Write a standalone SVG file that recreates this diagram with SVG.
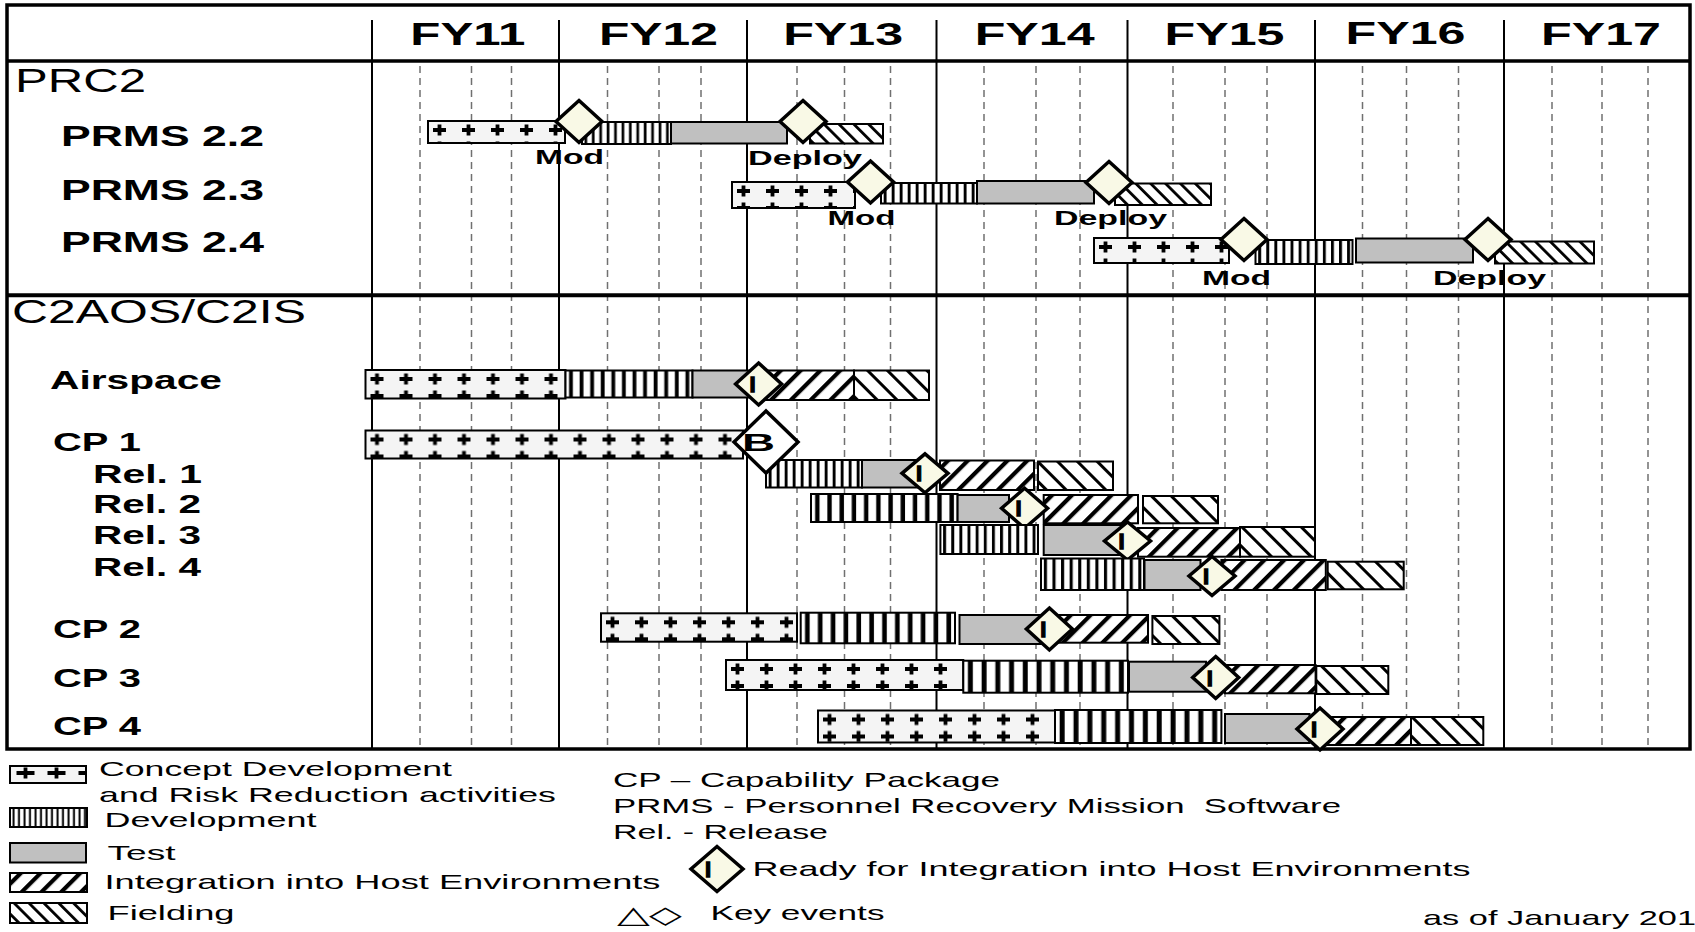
<svg xmlns="http://www.w3.org/2000/svg" width="1695" height="932" viewBox="0 0 1695 932">
<style>
text{font-family:"Liberation Sans",Arial,sans-serif;fill:#000}
.fy{font-size:31px;font-weight:bold;text-anchor:middle}
.sec{font-size:33px}
.row{font-size:29px;font-weight:bold}
.sub{font-size:26px;font-weight:bold}
.ms{font-size:21px;font-weight:bold}
.lg{font-size:21px}
.bar{stroke:#000;stroke-width:2}
.c{fill:url(#pC)}
.d{fill:url(#pD)}
.t{fill:#C0C0C0}
.i{fill:url(#pI)}
.f{fill:url(#pF)}
.fs{fill:url(#pFs)}
.dm{fill:#F9F9E6;stroke:#000;stroke-width:3.5;stroke-linejoin:miter}
.ib{font-size:22px;font-weight:bold;text-anchor:middle;stroke:#000;stroke-width:1.3}
.solid{stroke:#000;stroke-width:2}
.dash{stroke:#707070;stroke-width:1.5;stroke-dasharray:7 5}
</style>
<defs>
<pattern id="pC" patternUnits="userSpaceOnUse" width="29" height="17">
<rect width="29" height="17" fill="#F4F4F4"/>
<path d="M5,9H18M11.5,3.5V14.5" stroke="#000" stroke-width="3.8"/>
</pattern>
<pattern id="pCl" patternUnits="userSpaceOnUse" width="31" height="17">
<rect width="31" height="17" fill="#F4F4F4"/>
<path d="M6.5,7H24.5M15.5,1.5V12.5" stroke="#000" stroke-width="3.8"/>
</pattern>
<pattern id="pD" patternUnits="objectBoundingBox" patternContentUnits="objectBoundingBox" width="0.083333" height="1">
<rect width="0.083333" height="1" fill="#fff"/>
<rect x="0.028" width="0.03" height="1" fill="#000"/>
</pattern>
<pattern id="pDl" patternUnits="userSpaceOnUse" width="5.5" height="20">
<rect width="5.5" height="20" fill="#fff"/>
<rect x="1.5" width="2" height="20" fill="#000"/>
</pattern>
<pattern id="pI" patternUnits="userSpaceOnUse" width="14" height="14" patternTransform="rotate(45)">
<rect width="14" height="14" fill="#fff"/><rect width="4.2" height="14" fill="#000"/>
</pattern>
<pattern id="pF" patternUnits="userSpaceOnUse" width="14" height="14" patternTransform="rotate(-45)">
<rect width="14" height="14" fill="#fff"/><rect width="3" height="14" fill="#000"/>
</pattern>
<pattern id="pFs" patternUnits="userSpaceOnUse" width="10.5" height="10.5" patternTransform="rotate(-45)">
<rect width="10.5" height="10.5" fill="#fff"/><rect width="2.8" height="10.5" fill="#000"/>
</pattern>
</defs>
<rect width="1695" height="932" fill="#fff"/>

<g id="grid">
<g class="dash">
<line x1="420" y1="66" x2="420" y2="748"/><line x1="471.5" y1="66" x2="471.5" y2="748"/><line x1="511.5" y1="66" x2="511.5" y2="748"/>
<line x1="607.5" y1="66" x2="607.5" y2="748"/><line x1="659" y1="66" x2="659" y2="748"/><line x1="701" y1="66" x2="701" y2="748"/>
<line x1="797" y1="66" x2="797" y2="748"/><line x1="844.5" y1="66" x2="844.5" y2="748"/><line x1="890.5" y1="66" x2="890.5" y2="748"/>
<line x1="984" y1="66" x2="984" y2="748"/><line x1="1036" y1="66" x2="1036" y2="748"/><line x1="1080" y1="66" x2="1080" y2="748"/>
<line x1="1173" y1="66" x2="1173" y2="748"/><line x1="1225" y1="66" x2="1225" y2="748"/><line x1="1267" y1="66" x2="1267" y2="748"/>
<line x1="1362.5" y1="66" x2="1362.5" y2="748"/><line x1="1406.5" y1="66" x2="1406.5" y2="748"/><line x1="1458.5" y1="66" x2="1458.5" y2="748"/>
<line x1="1552" y1="66" x2="1552" y2="748"/><line x1="1602" y1="66" x2="1602" y2="748"/><line x1="1648" y1="66" x2="1648" y2="748"/>
</g>
<g class="solid">
<line x1="372" y1="20" x2="372" y2="749"/><line x1="559" y1="20" x2="559" y2="749"/><line x1="747" y1="20" x2="747" y2="749"/>
<line x1="936.5" y1="20" x2="936.5" y2="749"/><line x1="1127.5" y1="20" x2="1127.5" y2="749"/><line x1="1315" y1="20" x2="1315" y2="749"/>
<line x1="1504" y1="20" x2="1504" y2="749"/>
</g>
<rect x="7" y="5" width="1683" height="744" fill="none" stroke="#000" stroke-width="3.5"/>
<line x1="7" y1="61" x2="1690" y2="61" stroke="#000" stroke-width="3.5"/>
<line x1="7" y1="295.3" x2="1690" y2="295.3" stroke="#000" stroke-width="4"/>
</g>

<g id="header">
<text class="fy" x="467.8" y="44.5" textLength="115" lengthAdjust="spacingAndGlyphs">FY11</text>
<text class="fy" x="658.4" y="44.5" textLength="119" lengthAdjust="spacingAndGlyphs">FY12</text>
<text class="fy" x="843.2" y="44.5" textLength="120" lengthAdjust="spacingAndGlyphs">FY13</text>
<text class="fy" x="1034.7" y="44.5" textLength="120" lengthAdjust="spacingAndGlyphs">FY14</text>
<text class="fy" x="1224.5" y="44.5" textLength="120" lengthAdjust="spacingAndGlyphs">FY15</text>
<text class="fy" x="1405.5" y="43.5" textLength="120" lengthAdjust="spacingAndGlyphs">FY16</text>
<text class="fy" x="1601" y="44.5" textLength="120" lengthAdjust="spacingAndGlyphs">FY17</text>
</g>

<g id="section-prc2">
<text class="sec" x="15" y="92" textLength="131" lengthAdjust="spacingAndGlyphs">PRC2</text>
</g>

<g id="prms22">
<text class="row" x="61" y="145.5" textLength="203" lengthAdjust="spacingAndGlyphs">PRMS 2.2</text>
<rect class="bar c" transform="translate(428,121)" width="137" height="22"/>
<rect class="bar d" x="582" y="122" width="89" height="22"/>
<rect class="bar t" x="671" y="122" width="116" height="21.5"/>
<rect class="bar fs" x="810" y="124" width="73" height="19.5"/>
<polygon class="dm" points="579,100.5 602,121.5 579,142.5 556,121.5"/>
<polygon class="dm" points="803,100.5 826,121.5 803,142.5 780,121.5"/>
<text class="ms" x="535" y="164" textLength="69" lengthAdjust="spacingAndGlyphs">Mod</text>
<text class="ms" x="748" y="165" textLength="114" lengthAdjust="spacingAndGlyphs">Deploy</text>
</g>

<g id="prms23">
<text class="row" x="61" y="200" textLength="203" lengthAdjust="spacingAndGlyphs">PRMS 2.3</text>
<rect class="bar c" transform="translate(732,182)" width="123" height="26"/>
<rect class="bar d" x="881" y="183" width="96" height="20.5"/>
<rect class="bar t" x="977" y="181" width="117" height="22.5"/>
<rect class="bar fs" x="1115" y="183.5" width="96" height="21.5"/>
<polygon class="dm" points="870.5,161 893.5,182 870.5,203 847.5,182"/>
<polygon class="dm" points="1109,161.5 1132,182.5 1109,203.5 1086,182.5"/>
<text class="ms" x="827.5" y="225" textLength="68" lengthAdjust="spacingAndGlyphs">Mod</text>
<text class="ms" x="1054" y="224.5" textLength="113" lengthAdjust="spacingAndGlyphs">Deploy</text>
</g>

<g id="prms24">
<text class="row" x="61" y="252" textLength="203" lengthAdjust="spacingAndGlyphs">PRMS 2.4</text>
<rect class="bar c" transform="translate(1094,238)" width="135" height="25"/>
<rect class="bar d" x="1255.5" y="240" width="97" height="24"/>
<rect class="bar t" x="1356" y="238.5" width="117" height="24"/>
<rect class="bar fs" x="1495" y="241.5" width="99" height="22"/>
<polygon class="dm" points="1244,218.5 1267,239.5 1244,260.5 1221,239.5"/>
<polygon class="dm" points="1488,218.5 1511,239.5 1488,260.5 1465,239.5"/>
<text class="ms" x="1202" y="285" textLength="69" lengthAdjust="spacingAndGlyphs">Mod</text>
<text class="ms" x="1433" y="285" textLength="113" lengthAdjust="spacingAndGlyphs">Deploy</text>
</g>

<g id="section-c2aos">
<text class="sec" x="12" y="323" font-size="32" textLength="294" lengthAdjust="spacingAndGlyphs">C2AOS/C2IS</text>
</g>

<g id="airspace">
<text class="sub" x="50" y="389" font-size="27" textLength="172" lengthAdjust="spacingAndGlyphs">Airspace</text>
<rect class="bar c" transform="translate(365.5,370)" width="200" height="28.5"/>
<rect class="bar d" x="565.5" y="370.5" width="127" height="27"/>
<rect class="bar t" x="692.5" y="370.5" width="56.5" height="27"/>
<rect class="bar i" x="764" y="370.5" width="90" height="29.5"/>
<rect class="bar f" x="854" y="370.5" width="75" height="29.5"/>
<polygon class="dm" points="758.6,363 781.6,384 758.6,405 735.6,384"/>
<text class="ib" x="752.6" y="392">I</text>
</g>

<g id="rel1">
<text class="sub" x="93" y="483" textLength="109" lengthAdjust="spacingAndGlyphs">Rel. 1</text>
<rect class="bar d" x="766" y="460" width="96" height="27.5"/>
<rect class="bar t" x="862" y="460" width="55" height="27.5"/>
<rect class="bar i" x="940" y="460.5" width="94" height="29.5"/>
<rect class="bar f" x="1038" y="461.5" width="75" height="28.5"/>
<polygon class="dm" points="925,453.8 948,473.3 925,492.8 902,473.3"/>
<text class="ib" x="919" y="481">I</text>
</g>

<g id="cp1">
<text class="sub" x="53" y="450.5" textLength="88" lengthAdjust="spacingAndGlyphs">CP 1</text>
<rect class="bar c" transform="translate(365.5,430.5)" width="377.5" height="28"/>
<polygon points="766,411 798,442 766,473 734,442" fill="#fff" stroke="#000" stroke-width="3.5"/>
<text x="758.5" y="451" font-size="24" font-weight="bold" text-anchor="middle" textLength="33" lengthAdjust="spacingAndGlyphs">B</text>
</g>

<g id="rel2">
<text class="sub" x="93" y="513" textLength="108" lengthAdjust="spacingAndGlyphs">Rel. 2</text>
<rect class="bar d" x="811" y="494" width="146.6" height="28"/>
<rect class="bar t" x="957.6" y="495" width="51.4" height="27"/>
<rect class="bar i" x="1043.7" y="495" width="94.3" height="28.3"/>
<rect class="bar f" x="1143" y="496" width="75" height="27.3"/>
<polygon class="dm" points="1024.6,488.3 1047.6,508.3 1024.6,528.3 1001.6,508.3"/>
<text class="ib" x="1018.6" y="516">I</text>
</g>

<g id="rel3">
<text class="sub" x="93" y="544" textLength="108" lengthAdjust="spacingAndGlyphs">Rel. 3</text>
<rect class="bar d" x="940.4" y="525" width="97.6" height="29"/>
<rect class="bar t" x="1043.7" y="525" width="80.3" height="30"/>
<rect class="bar i" x="1138" y="528" width="102" height="28.7"/>
<rect class="bar f" x="1240" y="527" width="75" height="29.7"/>
<polygon class="dm" points="1127.5,522 1150.5,541 1127.5,560 1104.5,541"/>
<text class="ib" x="1121.5" y="549">I</text>
</g>

<g id="rel4">
<text class="sub" x="93" y="576" textLength="108" lengthAdjust="spacingAndGlyphs">Rel. 4</text>
<rect class="bar d" x="1041" y="558.5" width="103" height="31.5"/>
<rect class="bar t" x="1144.5" y="560" width="56" height="30"/>
<rect class="bar i" x="1221.4" y="560" width="104.4" height="30"/>
<rect class="bar f" x="1327.7" y="561.7" width="76" height="27.6"/>
<polygon class="dm" points="1212,556.5 1235,576 1212,595.5 1189,576"/>
<text class="ib" x="1206" y="584">I</text>
</g>

<g id="cp2">
<text class="sub" x="53" y="638.3" textLength="88" lengthAdjust="spacingAndGlyphs">CP 2</text>
<rect class="bar c" transform="translate(601,613.3)" width="196" height="28.4"/>
<rect class="bar d" x="800.7" y="612.7" width="154.3" height="30.6"/>
<rect class="bar t" x="959.5" y="615" width="84" height="29"/>
<rect class="bar i" x="1059" y="615" width="89" height="27.7"/>
<rect class="bar f" x="1152.4" y="616" width="67" height="28"/>
<polygon class="dm" points="1049.4,608 1072.4,629 1049.4,650 1026.4,629"/>
<text class="ib" x="1043.4" y="637">I</text>
</g>

<g id="cp3">
<text class="sub" x="53" y="686.5" textLength="88" lengthAdjust="spacingAndGlyphs">CP 3</text>
<rect class="bar c" transform="translate(726,660)" width="237.3" height="30"/>
<rect class="bar d" x="963.3" y="660.7" width="164.7" height="32"/>
<rect class="bar t" x="1129" y="661.7" width="77" height="30"/>
<rect class="bar i" x="1225" y="665" width="90.6" height="28.3"/>
<rect class="bar f" x="1316.3" y="666" width="72" height="28"/>
<polygon class="dm" points="1215.7,656.5 1238.7,677.5 1215.7,698.5 1192.7,677.5"/>
<text class="ib" x="1209.7" y="685.5">I</text>
</g>

<g id="cp4">
<text class="sub" x="53" y="735" textLength="88" lengthAdjust="spacingAndGlyphs">CP 4</text>
<rect class="bar c" transform="translate(818,710.5)" width="237" height="32"/>
<rect class="bar d" x="1055" y="710" width="166.4" height="33"/>
<rect class="bar t" x="1225" y="714" width="84.5" height="29"/>
<rect class="bar i" x="1327.7" y="717" width="83.3" height="28"/>
<rect class="bar f" x="1411" y="717" width="72.3" height="28"/>
<polygon class="dm" points="1320,708 1343,729 1320,750 1297,729"/>
<text class="ib" x="1314" y="737">I</text>
</g>

<g id="connectors"></g>

<g id="legend">
<rect class="bar" transform="translate(10,766)" width="76" height="17" fill="url(#pCl)"/>
<text class="lg" x="99" y="776" textLength="353" lengthAdjust="spacingAndGlyphs">Concept Development</text>
<text class="lg" x="99" y="801.5" textLength="457" lengthAdjust="spacingAndGlyphs">and Risk Reduction activities</text>
<rect class="bar" x="10" y="808" width="77" height="19" fill="url(#pDl)"/>
<text class="lg" x="104.5" y="827" textLength="212" lengthAdjust="spacingAndGlyphs">Development</text>
<rect class="bar t" x="10" y="843" width="76" height="19.5"/>
<text class="lg" x="107.5" y="860" textLength="68" lengthAdjust="spacingAndGlyphs">Test</text>
<rect class="bar i" x="10" y="873" width="77" height="19"/>
<text class="lg" x="104.5" y="889" textLength="556" lengthAdjust="spacingAndGlyphs">Integration into Host Environments</text>
<rect class="bar fs" x="10" y="903" width="77" height="20"/>
<text class="lg" x="107.5" y="920" textLength="127" lengthAdjust="spacingAndGlyphs">Fielding</text>
<text class="lg" x="613" y="786.5" textLength="387" lengthAdjust="spacingAndGlyphs">CP – Capability Package</text>
<text class="lg" x="613" y="813" textLength="728" lengthAdjust="spacingAndGlyphs" xml:space="preserve">PRMS - Personnel Recovery Mission  Software</text>
<text class="lg" x="613" y="839" textLength="215" lengthAdjust="spacingAndGlyphs">Rel. - Release</text>
<polygon class="dm" points="717,846.5 743,869 717,891.5 691,869"/>
<text class="ib" x="708" y="877" font-size="24">I</text>
<text class="lg" x="752.5" y="876" textLength="718" lengthAdjust="spacingAndGlyphs">Ready for Integration into Host Environments</text>
<text x="617" y="923" font-family="DejaVu Sans, sans-serif" font-size="24" textLength="64" lengthAdjust="spacingAndGlyphs">△◇</text>
<text class="lg" x="710.5" y="920" textLength="174" lengthAdjust="spacingAndGlyphs">Key events</text>
<text class="lg" x="1423" y="925" textLength="273" lengthAdjust="spacingAndGlyphs">as of January 201</text>
</g>
</svg>
